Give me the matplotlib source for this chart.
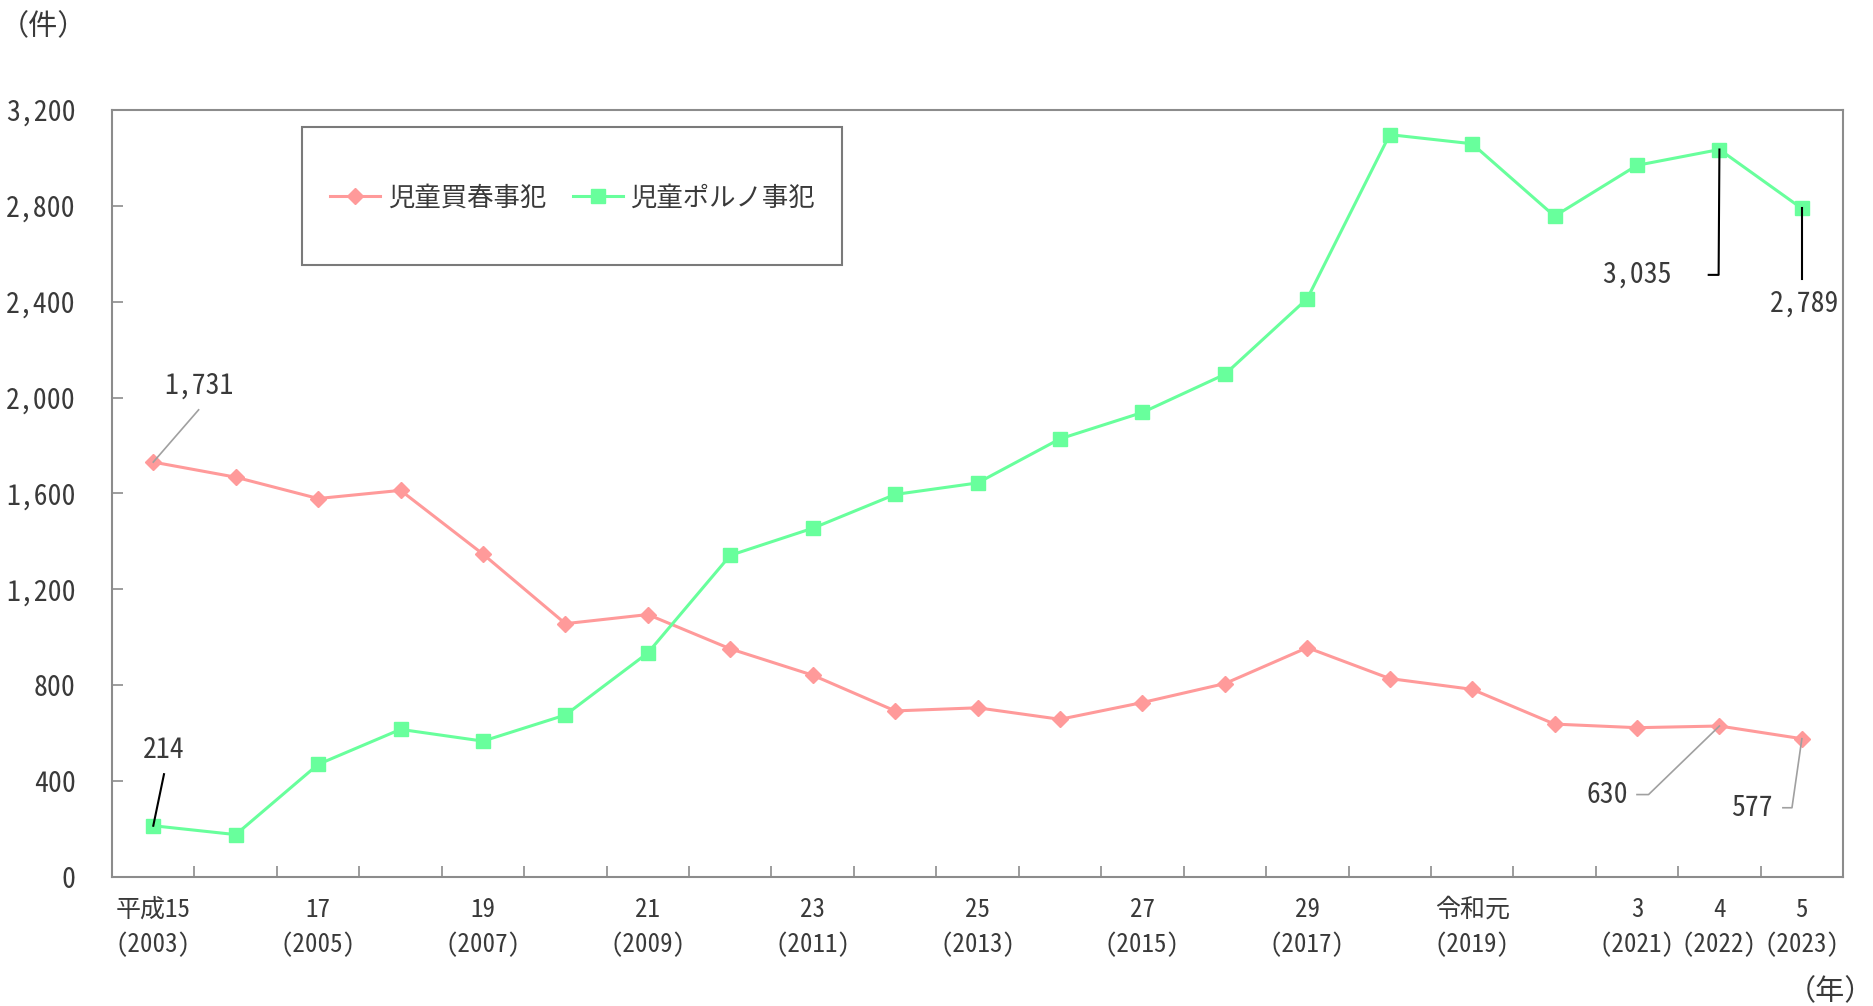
import matplotlib.pyplot as plt
from matplotlib.patches import Rectangle
from matplotlib.ticker import FuncFormatter

years = list(range(2003, 2024))
x_labels = ["平成15\n(2003)", "", "17\n(2005)", "", "19\n(2007)", "", "21\n(2009)", "",
            "23\n(2011)", "", "25\n(2013)", "", "27\n(2015)", "", "29\n(2017)", "",
            "令和元\n(2019)", "", "3\n(2021)", "4\n(2022)", "5\n(2023)"]

prostitution = [1731, 1668, 1579, 1613, 1347, 1057, 1095, 952, 842, 693, 706,
                658, 728, 807, 957, 828, 783, 638, 623, 630, 577]
pornography = [214, 177, 470, 616, 567, 676, 935, 1342, 1455, 1596, 1644,
               1828, 1938, 2097, 2413, 3097, 3059, 2757, 2969, 3035, 2789]

PINK = "#ff9a9a"
GREEN = "#68ff9c"
TEXT = "#3a3a3a"
SPINE = "#8c8c8c"
FONT = ["Noto Sans Mono CJK JP", "DejaVu Sans Mono", "Noto Sans CJK JP"]

plt.rcParams["font.family"] = FONT

fig = plt.figure(figsize=(18.74, 10.06), dpi=100)
ax = fig.add_axes([0.0598, 0.1282, 0.9237, 0.7625])

xs = list(range(len(years)))
ax.plot(xs, prostitution, color=PINK, lw=2.2, marker="D", ms=8, mec=PINK, zorder=3,
        label="児童買春事犯")
ax.plot(xs, pornography, color=GREEN, lw=2.2, marker="s", ms=10, mec=GREEN, zorder=3,
        label="児童ポルノ事犯")

ax.set_xlim(-0.5, len(years) - 0.5)
ax.set_ylim(0, 3200)
ax.set_yticks(range(0, 3201, 400))
ax.yaxis.set_major_formatter(FuncFormatter(lambda v, _: f"{int(v):,}"))
ax.tick_params(axis="y", direction="in", length=8, width=1.2, color=SPINE,
               labelsize=20, labelcolor=TEXT, pad=26)

# category ticks sit on the boundaries, labels in the middle
ax.set_xticks([i + 0.5 for i in xs[:-1]])
ax.set_xticklabels([])
ax.set_xticks(xs, minor=True)
ax.set_xticklabels(x_labels, minor=True, fontsize=18, color=TEXT, linespacing=1.45)
ax.tick_params(axis="x", which="major", direction="in", length=8, width=1.2, color=SPINE)
ax.tick_params(axis="x", which="minor", length=0, pad=15)

for s in ax.spines.values():
    s.set_color(SPINE)
    s.set_linewidth(1.5)

# legend box
ax.add_patch(Rectangle((0.1098, 0.798), 0.3119, 0.18, transform=ax.transAxes,
                       fill=False, ec="#7a7a7a", lw=1.5, zorder=4))
ax.legend(loc="center", bbox_to_anchor=(0.266, 0.885), ncol=2, frameon=False,
          fontsize=19, handlelength=1.9, columnspacing=1.0, handletextpad=0.3,
          labelcolor=TEXT)

# data labels with leader lines
lab = dict(fontsize=20, color=TEXT, ha="center", va="center")
ax.text(0.55, 2050, "1,731", **lab)
ax.plot([0.55, 0], [1949, prostitution[0]], color="#a0a0a0", lw=1.2, zorder=4)
ax.text(0.13, 528, "214", **lab)
ax.plot([0.13, 0], [429, pornography[0]], color="black", lw=1.5, zorder=4)
ax.text(18.0, 2512, "3,035", **lab)
ax.plot([18.87, 18.99, 19], [2512, 2512, pornography[19]], color="black", lw=1.5, zorder=4)
ax.text(20.03, 2393, "2,789", **lab)
ax.plot([20, 20], [2493, pornography[20]], color="black", lw=1.5, zorder=4)
ax.text(17.64, 344, "630", **lab)
ax.plot([18.0, 18.14, 19], [344, 344, prostitution[19]], color="#a0a0a0", lw=1.2, zorder=4)
ax.text(19.39, 289, "577", **lab)
ax.plot([19.77, 19.88, 20], [289, 289, prostitution[20]], color="#a0a0a0", lw=1.2, zorder=4)

fig.text(0.0, 0.973, "（件）", fontsize=21, color=TEXT, ha="left", va="center")
fig.text(1.0, 0.014, "（年）", fontsize=21, color=TEXT, ha="right", va="center")

fig.savefig("out.png", dpi=100)
